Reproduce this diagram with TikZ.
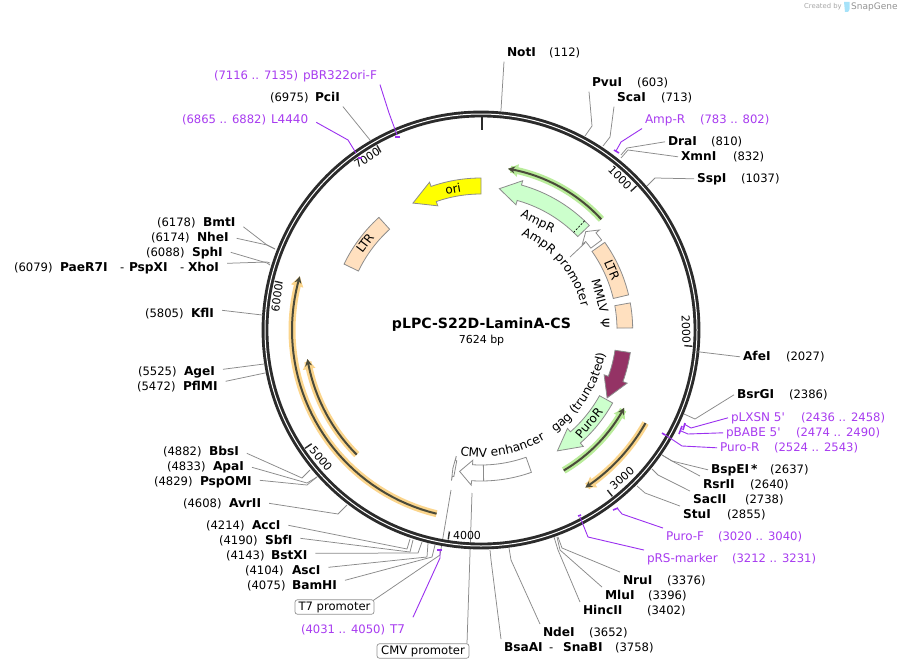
\documentclass[tikz,border=0pt]{standalone}
\usepackage{fontspec}
\setmainfont{DejaVu Sans}
\usetikzlibrary{arrows.meta,decorations.text}
\definecolor{ringc}{HTML}{2B2B2B}
\definecolor{wirec}{HTML}{8A8A8A}
\definecolor{purp}{HTML}{A83CF0}
\definecolor{wirep}{HTML}{9B30F0}
\definecolor{peach}{HTML}{FFE0BF}
\definecolor{paleg}{HTML}{CCFFCC}
\definecolor{gagc}{HTML}{943365}
\definecolor{oricol}{HTML}{FFFF00}
\definecolor{glowg}{HTML}{B9EC9A}
\definecolor{glowo}{HTML}{FBD58C}
\definecolor{orfd}{HTML}{4A4A3A}
\def\cx{481}
\def\cy{330}
\newcommand\lfa{\fontsize{11.6}{14}\selectfont}
\newcommand\lfb{\fontsize{12}{14}\selectfont}
\newcommand\lfc{\fontsize{12.2}{14}\selectfont}
\tikzset{
  lab/.style={inner sep=0pt,outer sep=3pt,anchor=west,text height=9pt,text depth=2.5pt,font=\lfa},
  ename/.style={lab,font=\lfc\bfseries,text=black},
  enum/.style={lab,text=black},
  pname/.style={lab,font=\lfb,text=purp},
  pnum/.style={lab,text=purp},
  conn/.style={draw=wirec,line width=0.75pt},
  pconn/.style={draw=wirep,line width=0.9pt},
  ptick/.style={draw=wirep,line width=1.6pt},
  feat/.style={draw=gray!90,line width=0.8pt,line join=miter},
  plab/.style={font=\lfb,text=black,inner sep=0pt},
  tag/.style={draw=gray!85,rounded corners=2.5pt,line width=0.7pt,fill=white,font=\lfa,inner sep=0pt,minimum height=14.5pt},
  majtick/.style={draw=ringc,line width=1.4pt},
  ticklab/.style={font=\fontsize{11}{13}\selectfont,inner sep=0pt,text=black}
}
% id, x, y, name, numx, num
\newcommand\site[6]{\node[ename] (#1) at ({#2-3},{#3+0.8}) {#4};\node[enum] (#1n) at ({#5-3},{#3+0.8}) {#6};}
\newcommand\psite[6]{\node[pname] (#1) at ({#2-3},{#3+0.8}) {#4};\node[pnum] (#1n) at ({#5-3},{#3+0.8}) {#6};}
% style, node.anchor, elbow, end
\def\wire#1#2#3#4{\wireb{#1}#2\relax{#3}{#4}}
\def\wireb#1#2.#3\relax#4#5{\coordinate (#2-e) at (#4);\coordinate (#2-r) at (#5);\draw[#1] (#2.#3) -- (#2-e) -- (#2-r);}
% wire leaving the right side of a label: style, node, drop, elbow, end
\newcommand\lwire[5]{\coordinate (#2-e) at (#4);\coordinate (#2-r) at (#5);\draw[#1] ([xshift=5pt,yshift={-(#3)*1pt}]#2.east) -- (#2-e) -- (#2-r);}
% radial segment: style r1 r2 angle
\newcommand\radial[4]{\draw[#1] ({\cx+(#2)*sin(#4)},{\cy-(#2)*cos(#4)}) -- ({\cx+(#3)*sin(#4)},{\cy-(#3)*cos(#4)});}
% arrow: style a b c ri ro
\newcommand\arrowfeat[6]{\draw[#1] plot[domain=#2:#3,samples=24] ({\cx+(#6)*sin(\x)},{\cy-(#6)*cos(\x)}) -- ({\cx+(#6+4.5)*sin(#3)},{\cy-(#6+4.5)*cos(#3)}) -- ({\cx+((#5+#6)/2)*sin(#4)},{\cy-((#5+#6)/2)*cos(#4)}) -- ({\cx+(#5-4.5)*sin(#3)},{\cy-(#5-4.5)*cos(#3)}) -- plot[domain=#3:#2,samples=24] ({\cx+(#5)*sin(\x)},{\cy-(#5)*cos(\x)}) -- cycle;}
\newcommand\arcbox[5]{\draw[#1] plot[domain=#2:#3,samples=24] ({\cx+(#5)*sin(\x)},{\cy-(#5)*cos(\x)}) -- plot[domain=#3:#2,samples=24] ({\cx+(#4)*sin(\x)},{\cy-(#4)*cos(\x)}) -- cycle;}
% orf: colour r a b
\newcommand\orf[4]{\draw[draw=#1,line width=7pt,-{Triangle[length=10pt,width=12pt]}] plot[domain=#3:#4,samples=40] ({\cx+(#2)*sin(\x)},{\cy-(#2)*cos(\x)});
\draw[draw=orfd,line width=2pt,-{Stealth[length=7pt,width=7pt]}] plot[domain=#3:#4,samples=40] ({\cx+(#2)*sin(\x)},{\cy-(#2)*cos(\x)});}
\newcommand\curvetext[4]{\path[decorate,decoration={text along path,text={|\lfc|#4},text align=center}] plot[domain=#2:#3,samples=50] ({\cx+(#1)*sin(\x)},{\cy-(#1)*cos(\x)});}
\begin{document}
\begin{tikzpicture}[x=1pt,y=-1pt]
\path[use as bounding box,fill=white] (0,0) rectangle (901,669);

% watermark
\node[inner sep=0pt,anchor=west,text=black!35,font=\fontsize{6.8}{9}\selectfont] (wm1) at (804,7) {Created by};
\fill[cyan!35!white] (844,2) -- (849.5,2) -- (849.5,9) .. controls (849.5,12) and (846,13) .. (845,12) -- cycle;
\node[inner sep=0pt,anchor=west,text=black!42,font=\fontsize{9}{11}\selectfont] (wm2) at (851,7) {SnapGene};

% wires that cross the ring lie under it
\coordinate (t7feat) at (451,490);
\coordinate (cmvfeat) at (472,493);
\node[tag,minimum width=79pt] (t7p) at (334.5,607) {T7 promoter};
\node[tag,minimum width=92pt] (cmvp) at (423,651) {CMV promoter};
\coordinate (t7elb) at (440,555);
\draw[conn] ([xshift=-1pt,yshift=-1pt]t7p.north east) -- (t7elb) -- (t7feat);
\coordinate (cmvbot) at (467,643.5);
\draw[conn] (cmvbot) -- (cmvfeat);

% orange, green open reading frames
\orf{glowg}{163.5}{47.4}{9.5}
\orf{glowg}{163}{149.5}{118.5}
\orf{glowo}{189}{119.5}{146.5}
\orf{glowo}{189}{193.6}{286.5}
\orf{glowo}{176}{224.9}{260.5}

% ring
\draw[ringc,line width=6.8pt] (\cx,\cy) circle (216);
\draw[white,line width=1pt] (\cx,\cy) circle (216);

% major ticks
\draw[ringc,line width=2.6pt] (482,117) -- (482,130);
\radial{majtick}{212}{204}{47.2}
\radial{majtick}{212}{204}{94.4}
\radial{majtick}{212}{204}{141.7}
\radial{majtick}{212}{204}{188.9}
\radial{majtick}{212}{204}{236.1}
\radial{majtick}{212}{204}{283.3}
\radial{majtick}{212}{204}{330.6}
\node[ticklab,rotate=-46] (t1) at (620,178) {1000};
\node[ticklab,rotate=-88] (t2) at (686,329) {2000};
\node[ticklab,rotate=41] (t3) at (622,478) {3000};
\node[ticklab] (t4) at (467,535) {4000};
\node[ticklab,rotate=-50] (t5) at (321,459) {5000};
\node[ticklab,rotate=82] (t6) at (277,298) {6000};
\node[ticklab,rotate=33] (t7) at (367,158) {7000};

% features
\arrowfeat{feat,fill=oricol}{0}{-19.2}{-28.2}{136}{152}
\arrowfeat{feat,fill=paleg}{46}{15.6}{7.4}{134.5}{150.5}
\radial{black,line width=0.7pt,dash pattern=on 2pt off 1.5pt}{134.5}{150.5}{43.5}
\arrowfeat{feat,fill=white}{53.3}{49.8}{46.8}{137}{150.5}
\arcbox{feat,fill=peach}{54.7}{76.6}{136}{151.7}
\arcbox{feat,fill=peach}{79.7}{89.2}{136}{151.7}
\arcbox{feat,fill=peach}{-64.3}{-42.2}{136}{152}
\arrowfeat{feat,fill=gagc}{98.6}{110}{118.3}{135.5}{151}
\arrowfeat{feat,fill=paleg}{119}{138.7}{147.7}{135.5}{150.5}
\arrowfeat{feat,fill=white}{160.5}{183.6}{188.6}{135}{151}
\radial{feat}{135}{151}{179}
\arrowfeat{feat,fill=white}{190.5}{191.1}{191.5}{133}{149}

% feature labels
\node[plab,rotate=10] (fori) at (453,189) {ori};
\node[plab,rotate=-26] (famp) at (537.5,222) {AmpR};
\node[plab,rotate=-67] (fltr1) at (612,270) {LTR};
\node[plab,rotate=53] (fltr2) at (365,243) {LTR};
\node[plab,rotate=-75] (fmm) at (600,296) {MMLV};
\node[plab,rotate=-90] (fpsi) at (605,323) {Ψ};
\node[plab,rotate=50] (fpuro) at (589,423) {PuroR};
\curvetext{103}{22}{78}{AmpR promoter}
\curvetext{126.5}{152}{93}{gag (truncated)}
\curvetext{127}{198}{141}{CMV enhancer}
\coordinate (apa) at (570,257);
\coordinate (apb) at (585,243);
\draw[conn] (apa) -- (apb);

% title
\node[inner sep=0pt,font=\fontsize{14.1}{16}\selectfont\bfseries] (title) at (481.5,325) {pLPC-S22D-LaminA-CS};
\node[inner sep=0pt,font=\fontsize{11}{13}\selectfont] (size) at (481.5,340) {7624 bp};

% right labels
\site{noti}{507}{52}{NotI}{549}{(112)}
\wire{conn}{noti.south west}{501,110}{501,111}
\site{pvui}{592}{82}{PvuI}{637}{(603)}
\wire{conn}{pvui.south west}{592,126}{585,136}
\site{scai}{617}{97}{ScaI}{661}{(713)}
\wire{conn}{scai.south west}{610,137}{603,146}
\psite{ampr}{645}{119}{Amp-R}{700}{(783 .. 802)}
\wire{pconn}{ampr.south west}{621,142}{616,151}
\draw[ptick] (614,150) -- (619,153);
\site{drai}{668}{141}{DraI}{711}{(810)}
\wire{conn}{drai.west}{627,148}{621,155}
\site{xmni}{681}{156}{XmnI}{733}{(832)}
\wire{conn}{xmni.west}{628,150}{621,158}
\site{sspi}{697}{178}{SspI}{741}{(1037)}
\wire{conn}{sspi.west}{655,178}{647,186}
\site{afei}{743}{356}{AfeI}{786}{(2027)}
\wire{conn}{afei.west}{700,352}{697,352}
\site{bsrgi}{737}{394}{BsrGI}{789}{(2386)}
\wire{conn}{bsrgi.west}{695,419}{684,414}
\psite{plxsn}{731}{417}{pLXSN 5\textquotesingle}{801}{(2436 .. 2458)}
\wire{pconn}{plxsn.west}{691,428}{684,424}
\draw[ptick] (685,423) -- (683,430);
\psite{pbabe}{726}{432}{pBABE 5\textquotesingle}{796}{(2474 .. 2490)}
\wire{pconn}{pbabe.west}{688,434}{681,431}
\draw[ptick] (682,426) -- (679,434);
\psite{puror}{720}{447}{Puro-R}{774}{(2524 .. 2543)}
\wire{pconn}{puror.west}{682,446}{664,434}
\draw[ptick] (662,433) -- (665,435);
\site{bspei}{711}{469}{BspEI\,*}{770}{(2637)}
\wire{conn}{bspei.west}{672,461}{662,455}
\site{rsrii}{703}{484}{RsrII}{750}{(2640)}
\wire{conn}{rsrii.north west}{672,461}{662,455}
\site{sacii}{693}{499}{SacII}{745}{(2738)}
\wire{conn}{sacii.north west}{658,475}{652,469}
\site{stui}{683}{514}{StuI}{727}{(2855)}
\wire{conn}{stui.north west}{645,493}{637,486}
\psite{purof}{666}{536}{Puro-F}{718}{(3020 .. 3040)}
\wire{pconn}{purof.north west}{622,514}{617,508}
\draw[ptick] (613,510) -- (618,508);
\psite{prs}{647}{558}{pRS-marker}{732}{(3212 .. 3231)}
\wire{pconn}{prs.north west}{588,537}{580,517}
\draw[ptick] (578,516) -- (581,515);
\site{nrui}{623}{580}{NruI}{667}{(3376)}
\wire{conn}{nrui.north west}{562,548}{558,537}
\site{mlui}{605}{595}{MluI}{648}{(3396)}
\wire{conn}{mlui.north west}{560,550}{557,537}
\site{hincii}{583}{610}{HincII}{647}{(3402)}
\wire{conn}{hincii.north west}{558,550}{554,537}
\site{ndei}{543}{632}{NdeI}{589}{(3652)}
\wire{conn}{ndei.north west}{511,560}{509,548}
\node[ename] (bsaa) at ({504-3},647.8) {BsaAI};
\node[enum] (dash1) at ({549-3},647.8) {-};
\node[ename] (snab) at ({563-3},647.8) {SnaBI};
\node[enum] (bsan) at ({615-3},647.8) {(3758)};
\wire{conn}{bsaa.north west}{491,560}{490,550}

% T7 primer
\node[pnum] (t7n) at ({301-3},629.8) {(4031 .. 4050)};
\node[pname] (t7l) at ({390-3},629.8) {T7};
\lwire{pconn}{t7l}{-12.5}{440,558}{440,551}
\draw[ptick] (437,550) -- (442,550);

% top left
\psite{pbr}{303}{75}{pBR322ori-F}{214}{(7116 .. 7135)}
\wire{pconn}{pbr.south east}{389,113}{397,135}
\draw[ptick] (395,137) -- (400,137);
\site{pcii}{315}{97}{PciI}{270}{(6975)}
\wire{conn}{pcii.south east}{370,140}{370,141}
\psite{lfour}{271}{119}{L4440}{182}{(6865 .. 6882)}
\lwire{pconn}{lfour}{2.5}{348,140}{356,153}
\draw[ptick] (358,158) -- (362,158);

% left labels
\site{bmti}{203}{222}{BmtI}{157}{(6178)}
\lwire{conn}{bmti}{4}{267,245}{275,249}
\site{nhei}{197}{237}{NheI}{151}{(6174)}
\lwire{conn}{nhei}{0.5}{267,245}{275,249}
\site{sphi}{192}{252}{SphI}{146}{(6088)}
\lwire{conn}{sphi}{-0.5}{267,263}{270,265}
\node[enum] (paen) at ({14-3},267.8) {(6079)};
\node[ename] (pae) at ({60-3},267.8) {PaeR7I};
\node[enum] (dash2) at ({120-3},267.8) {-};
\node[ename] (psp) at ({129-3},267.8) {PspXI};
\node[enum] (dash3) at ({180-3},267.8) {-};
\node[ename] (xho) at ({188-3},267.8) {XhoI};
\lwire{conn}{xho}{-4.5}{267,262}{270,263}
\site{kfli}{191}{313}{KflI}{145}{(5805)}
\lwire{conn}{kfli}{-3.5}{262,315}{263,315}
\site{agei}{184}{371}{AgeI}{138}{(5525)}
\lwire{conn}{agei}{-2.5}{264,364}{265,364}
\site{pflmi}{183}{386}{PflMI}{137}{(5472)}
\lwire{conn}{pflmi}{-5.5}{265,373}{266,373}
\site{bbsi}{209}{451}{BbsI}{163}{(4882)}
\lwire{conn}{bbsi}{1.5}{302,478}{310,470}
\site{apai}{213}{466}{ApaI}{167}{(4833)}
\lwire{conn}{apai}{0.5}{307,483}{317,477}
\site{pspo}{200}{481}{PspOMI}{154}{(4829)}
\lwire{conn}{pspo}{-1.5}{307,485}{317,477}
\site{avrii}{229}{503}{AvrII}{183}{(4608)}
\lwire{conn}{avrii}{-0.5}{338,514}{347,505}
\site{acci}{252}{525}{AccI}{206}{(4214)}
\lwire{conn}{acci}{-0.5}{407,549}{410,539}
\site{sbfi}{265}{540}{SbfI}{219}{(4190)}
\lwire{conn}{sbfi}{-2.5}{410,552}{413,540}
\site{bstxi}{271}{555}{BstXI}{226}{(4143)}
\lwire{conn}{bstxi}{-2.5}{418,553}{422,542}
\site{asci}{292}{570}{AscI}{245}{(4104)}
\lwire{conn}{asci}{-3.5}{427,557}{428,543}
\site{bamhi}{292}{585}{BamHI}{247}{(4075)}
\lwire{conn}{bamhi}{-5.5}{432,557}{435,545}
\end{tikzpicture}
\end{document}
